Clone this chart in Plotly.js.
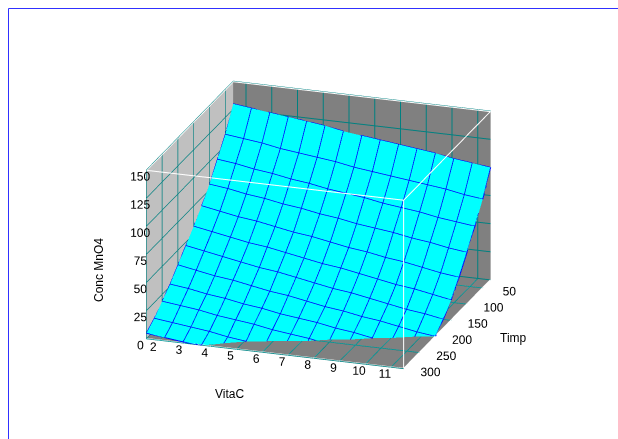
<!DOCTYPE html>
<html><head><meta charset="utf-8">
<script src="https://cdn.plot.ly/plotly-3.0.1.min.js"></script>
<style>html,body{margin:0;padding:0;background:#fff}#c{width:618px;height:439px}</style>
</head><body><div id="c"></div><script>
const vitaC=[1.5,2.214,2.929,3.643,4.357,5.071,5.786,6.5,7.214,7.929,8.643,9.357,10.071,10.786,11.5];
const timp=[25,50,75,100,125,150,175,200,225,250,275,300];
const concMnO4=[
[130,128,126,124,122,120,117,115,113,111,109,107,104,102,100],
[110,108,106,103,101,99,97,94,92,90,88,86,84,81,79],
[95,93,90,88,85,83,80,78,76,73,71,69,66,64,62],
[80,78,75,73,70,68,65,63,60,58,56,53,51,48,46],
[68,65,62,60,57,54,52,49,46,44,41,39,36,33,31],
[57,54,51,48,46,43,40,37,35,32,29,26,24,21,18],
[47,44,41,38,35,33,30,27,24,22,19,16,13,11,8],
[37,34,31,29,26,23,21,18,15,13,10,8,5,2,0],
[27,25,22,20,17,15,12,10,8,5,3,0,-2,-5,-7],
[19,17,15,12,10,8,5,3,1,-2,-4,-6,-8,-10,-12],
[11,9,7,5,2,0,-2,-4,-6,-8,-10,-12,-14,-16,-18],
[5,3,1,0,-2,-4,-6,-8,-10,-12,-14,-16,-18,-20,-22]];
const xTicks=[2,3,4,5,6,7,8,9,10,11];
const yTicks=[50,100,150,200,250,300];
const zTicks=[0,25,50,75,100,125,150];
const xR=[1.5,11.5],yR=[25,300],zR=[0,150];
const zTop=149.7,zBot=0.2,xLo=1.51,xHi=11.49,yLo=25.3,yHi=299.7;
const edgeX=[xLo,xHi,xHi,xLo,xLo,null,xHi,xHi,null,xLo,xHi,xHi];
const edgeY=[yHi,yHi,yLo,yLo,yHi,null,yHi,yHi,null,yHi,yHi,yLo];
const edgeZ=[zTop,zTop,zTop,zTop,zTop,null,zTop,zBot,null,zBot,zBot,zBot];
const tickFont={family:'Liberation Sans',size:12,color:'#000'};
const axisBase={showspikes:false,ticks:'outside',ticklen:8,tickcolor:'rgba(0,0,0,0)',tickangle:0,tickfont:tickFont,
  gridcolor:'#008080',gridwidth:2,showbackground:true,showline:false,zeroline:false,title:{text:''}};
const surf={type:'surface',x:vitaC,y:timp,z:concMnO4,showscale:false,hoverinfo:'skip',
  surfacecolor:concMnO4.map(r=>r.map(()=>0)),cmin:0,cmax:1,
  colorscale:[[0,'#00ffff'],[1,'#00ffff']],
  lighting:{ambient:1,diffuse:0,specular:0,fresnel:0,roughness:1},
  contours:{
    x:{show:true,start:1.5,end:11.5,size:0.7143,color:'#0000ff',width:4,highlight:false},
    y:{show:true,start:25,end:300,size:25,color:'#0000ff',width:4,highlight:false},
    z:{show:false,highlight:false}}};
const edges={type:'scatter3d',mode:'lines',x:edgeX,y:edgeY,z:edgeZ,line:{color:'#ffffff',width:2},hoverinfo:'skip',showlegend:false};
const fx=[],fy=[],fz=[];
xTicks.forEach(v=>{fx.push(v,v,null);fy.push(yR[0],yR[1],null);fz.push(0,0,null);});
yTicks.forEach(v=>{fx.push(xR[0],xR[1],null);fy.push(v,v,null);fz.push(0,0,null);});
const floorGrid={type:'scatter3d',mode:'lines',x:fx,y:fy,z:fz,line:{color:'#00c8c8',width:1},hoverinfo:'skip',showlegend:false};
const mx=[],my=[],mz=[];
timp.forEach((t,i)=>{vitaC.forEach((v,j)=>{mx.push(v);my.push(t);mz.push(concMnO4[i][j]);});mx.push(null);my.push(null);mz.push(null);});
vitaC.forEach((v,j)=>{timp.forEach((t,i)=>{mx.push(v);my.push(t);mz.push(concMnO4[i][j]);});mx.push(null);my.push(null);mz.push(null);});
const mesh={type:'scatter3d',mode:'lines',x:mx,y:my,z:mz,line:{color:'#0000ff',width:2},hoverinfo:'skip',showlegend:false,connectgaps:false};
const annFont=tickFont;
const layout={width:618,height:439,margin:{l:0,r:0,t:0,b:0},paper_bgcolor:'#fff',showlegend:false,
  scene:{domain:{x:[0.03,1],y:[0,0.975]},
    aspectmode:'manual',aspectratio:{x:1.27,y:1.27,z:0.84},
    camera:{projection:{type:'orthographic'},eye:{x:1.8,y:-5.34,z:2.07},center:{x:0,y:0,z:0},up:{x:0,y:0,z:1}},
    xaxis:Object.assign({},axisBase,{range:xR,ticklen:10,tickvals:xTicks,ticktext:xTicks.map(String),backgroundcolor:'#c0c0c0'}),
    yaxis:Object.assign({},axisBase,{range:[yR[1],yR[0]],ticklen:1,tickvals:yTicks,ticktext:yTicks.map(String),backgroundcolor:'#808080'}),
    zaxis:Object.assign({},axisBase,{range:zR,ticklen:4,tickvals:zTicks,ticktext:zTicks.map(String),backgroundcolor:'#808080'})
  },
  shapes:[
   {type:'line',xref:'paper',yref:'paper',x0:8.5/618,x1:8.5/618,y0:0,y1:1-8.5/439,line:{color:'#3030ff',width:1}},
   {type:'line',xref:'paper',yref:'paper',x0:8.5/618,x1:1,y0:1-8.5/439,y1:1-8.5/439,line:{color:'#3030ff',width:1}}],
  annotations:[
   {text:'Timp',xref:'paper',yref:'paper',x:513/618,y:1-338/439,xanchor:'center',yanchor:'middle',showarrow:false,font:annFont},
   {text:'VitaC',xref:'paper',yref:'paper',x:229/618,y:1-394/439,xanchor:'center',yanchor:'middle',showarrow:false,font:annFont},
   {text:'Conc MnO4',xref:'paper',yref:'paper',x:99/618,y:1-270/439,xanchor:'center',yanchor:'middle',showarrow:false,textangle:-90,font:annFont}]
};
Plotly.newPlot('c',[surf,floorGrid,mesh,edges],layout,{displayModeBar:false});
</script></body></html>
